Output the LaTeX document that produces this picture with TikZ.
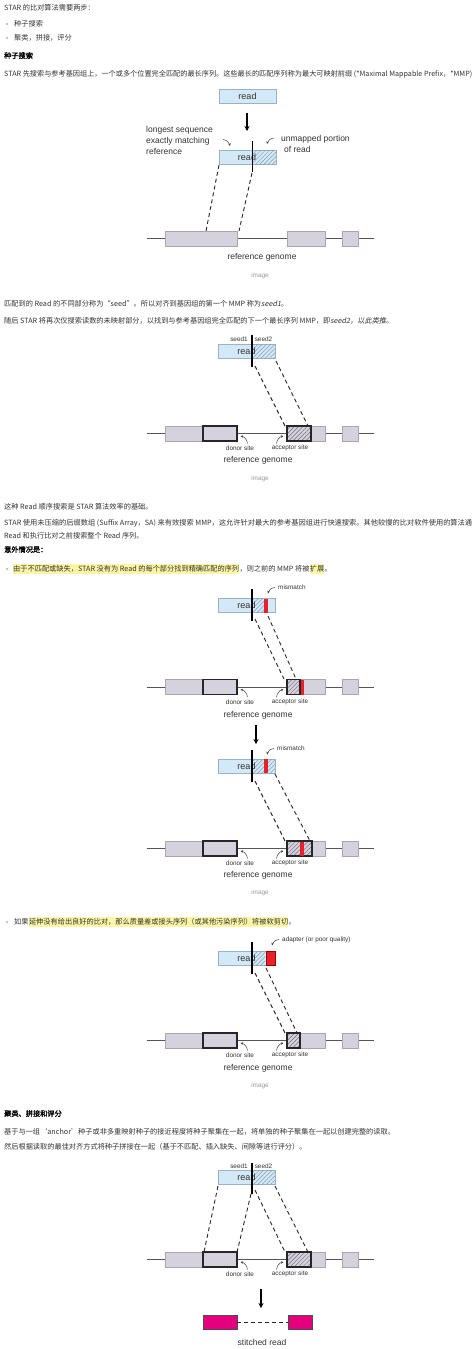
\documentclass[tikz,border=0pt]{standalone}
\usepackage{fontspec}
\setmainfont{Liberation Sans}
\newfontfamily\cjk{Noto Sans CJK SC}
\newfontfamily\cjkit{Noto Sans CJK SC}[FakeSlant=0.2]
\newfontfamily\cjkb{Noto Sans CJK SC}[FakeBold=1.5]
\usetikzlibrary{patterns.meta,arrows.meta}
\definecolor{txt}{HTML}{333333}
\definecolor{readbl}{HTML}{D4E9F7}
\definecolor{readbd}{HTML}{9AB2C6}
\definecolor{hatchbl}{HTML}{7F9BB5}
\definecolor{exonfl}{HTML}{D5D2DD}
\definecolor{exonbd}{HTML}{A9A6B4}
\definecolor{hatchgr}{HTML}{6E6B78}
\definecolor{redc}{HTML}{E8202A}
\definecolor{magc}{HTML}{E5007D}
\definecolor{hl}{HTML}{FCF6A4}
\definecolor{capgray}{HTML}{9A9A9A}
\definecolor{glc}{HTML}{555555}

\newcommand{\genomerow}[2]{%
  \coordinate (#1gl) at (147,#2);
  \coordinate (#1gr) at (374,#2);
  \draw[gline] (#1gl) -- (#1gr);
  \node[exon,minimum width=72pt] (#1e1) at (201,#2) {};
  \node[exon,minimum width=38pt] (#1e2) at (306,#2) {};
  \node[exon,minimum width=16pt] (#1e3) at (350,#2) {};
}
\newcommand{\siterow}[2]{%
  \node[thickbox,minimum width=34pt] (#1don) at (220,#2) {};
  \node[small] (#1dl) at (240,#2+14.8) {donor site};
  \node[small] (#1al) at (290,#2+14.8) {acceptor site};
  \coordinate (#1da) at (247.5,#2+10);
  \coordinate (#1db) at (240.5,#2+2.5);
  \draw[ptr] (#1da) to[bend right=35] (#1db);
  \coordinate (#1aa) at (276.5,#2+10);
  \coordinate (#1ab) at (283.5,#2+2.5);
  \draw[ptr] (#1aa) to[bend left=35] (#1ab);
}

\begin{document}
\begin{tikzpicture}[x=1pt,y=-1pt,
  ct/.style={anchor=west,inner xsep=0pt,inner ysep=1.3pt,text height=6.2pt,text depth=1.7pt,font=\cjk\fontsize{7.2}{9}\selectfont,text=txt},
  ctb/.style={ct,font=\cjkb\fontsize{7.2}{9}\selectfont,text=black},
  hlt/.style={ct,fill=hl},
  bul/.style={circle,fill=gray!60,inner sep=0pt,minimum size=2.4pt},
  readbox/.style={draw=readbd,fill=readbl,minimum width=57pt,minimum height=14pt,inner sep=0pt,line width=0.5pt},
  readlbl/.style={font=\fontsize{9}{10}\selectfont,text=txt,inner sep=0pt},
  hatchread/.style={pattern={Lines[angle=45,distance=3pt,line width=0.5pt]},pattern color=hatchbl},
  hatchex/.style={pattern={Lines[angle=45,distance=3pt,line width=0.5pt]},pattern color=hatchgr},
  gline/.style={draw=glc,line width=0.8pt},
  exon/.style={draw=exonbd,fill=exonfl,minimum height=15pt,inner sep=0pt,line width=0.5pt},
  thickbox/.style={draw=black!85,line width=1.1pt,minimum height=15pt,inner sep=0pt},
  ptr/.style={-{Stealth[length=2.6pt,width=2.4pt]},line width=0.5pt,draw=black!75},
  bigarrow/.style={-{Stealth[length=5pt,width=5pt]},line width=1.3pt,draw=black},
  dashln/.style={dash pattern=on 4pt off 3pt,line width=0.9pt,draw=black!85},
  divider/.style={line width=1.2pt,draw=black},
  lbl/.style={font=\fontsize{8.5}{11}\selectfont,text=txt,inner sep=0pt},
  small/.style={font=\fontsize{6.4}{8}\selectfont,text=txt,inner sep=0pt},
  imgcap/.style={font=\fontsize{6.4}{8}\selectfont,text=capgray,inner sep=0pt},
  magbox/.style={draw=black!70,fill=magc,minimum height=14pt,inner sep=0pt,line width=0.6pt}
]
\path[use as bounding box,fill=white] (0,0) rectangle (474,1349);

% ---------------- intro text
\node[ct] (t1) at (4,8) {STAR 的比对算法需要两步：};
\node[bul] (bu1) at (7,24) {};
\node[ct] (t2) at (14,24) {种子搜索};
\node[bul] (bu2) at (7,38) {};
\node[ct] (t3) at (14,38) {聚类，拼接，评分};
\node[ctb] (h1) at (4,56) {种子搜索};
\node[ct] (t4) at (4,74) {\resizebox{468pt}{!}{STAR 先搜索与参考基因组上，一个或多个位置完全匹配的最长序列。这些最长的匹配序列称为最大可映射前缀 (*Maximal Mappable Prefix，*MMP)}};

% ---------------- diagram 1
\node[readbox] (r0) at (247.5,96) {};
\node[readlbl] (r0l) at (247.5,96) {read};
\coordinate (a0s) at (247,113);
\coordinate (a0e) at (247,131);
\draw[bigarrow] (a0s) -- (a0e);
\node[lbl,anchor=west,align=left] (lng) at (146,140) {longest sequence\\exactly matching\\reference};
\node[lbl,anchor=west,align=left] (unm) at (281,143.5) {unmapped portion\\\hspace{3pt}of read};
\coordinate (p1a) at (223,139.5);
\coordinate (p1b) at (230,146);
\draw[ptr] (p1a) to[bend left=35] (p1b);
\coordinate (p2a) at (274,138);
\coordinate (p2b) at (267,144);
\draw[ptr] (p2a) to[bend right=35] (p2b);
\node[readbox] (r1) at (247.5,157) {};
\path[hatchread] (253,150) rectangle (276,164);
\node[readlbl] (r1l) at (247,157) {read};
\coordinate (v1a) at (252.5,141);
\coordinate (v1b) at (252.5,172);
\draw[divider] (v1a) -- (v1b);
\genomerow{g1}{238.5}
\coordinate (d1a) at (219,165);
\coordinate (d1b) at (206,231);
\draw[dashln] (d1a) -- (d1b);
\coordinate (d1c) at (252,173);
\coordinate (d1d) at (239,231);
\draw[dashln] (d1c) -- (d1d);
\node[lbl] (rg1) at (262,257) {reference genome};
\node[imgcap] (c1) at (260,276) {image};

% ---------------- text 2
\node[ct] (t5) at (4,304) {匹配到的 Read 的不同部分称为“seed”。所以对齐到基因组的第一个 MMP 称为{\cjkit seed1}。};
\node[ct] (t6) at (4,321) {随后 STAR 将再次仅搜索读数的未映射部分，以找到与参考基因组完全匹配的下一个最长序列 MMP，即{\cjkit seed2，以此类推}。};

% ---------------- diagram 2
\node[small] (s21) at (239,339) {seed1};
\node[small] (s22) at (263.5,339) {seed2};
\node[readbox] (r2) at (246.5,351) {};
\path[hatchread] (252,344) rectangle (275,358);
\node[readlbl] (r2l) at (246.5,351) {read};
\coordinate (v2a) at (252,335);
\coordinate (v2b) at (252,367);
\draw[divider] (v2a) -- (v2b);
\genomerow{g2}{433.5}
\siterow{g2}{433.5}
\node[thickbox,hatchex,minimum width=24pt] (g2acc) at (299,433.5) {};
\coordinate (d2a) at (255,366);
\coordinate (d2b) at (285,426);
\draw[dashln] (d2a) -- (d2b);
\coordinate (d2c) at (276,361);
\coordinate (d2d) at (308,426);
\draw[dashln] (d2c) -- (d2d);
\node[lbl] (rg2) at (258,460) {reference genome};
\node[imgcap] (c2) at (260,479) {image};

% ---------------- text 3
\node[ct] (t7) at (4,507) {这种 Read 顺序搜索是 STAR 算法效率的基础。};
\node[ct] (t8) at (4,523) {\resizebox{468pt}{!}{STAR 使用未压缩的后缀数组 (Suffix Array，SA) 来有效搜索 MMP，这允许针对最大的参考基因组进行快速搜索。其他较慢的比对软件使用的算法通}};
\node[ct] (t9) at (4,536) {Read 和执行比对之前搜索整个 Read 序列。};
\node[ctb] (h2) at (4,550) {意外情况是：};
\node[bul] (bu3) at (7,569) {};
\node[hlt] (b1a) at (13,569) {由于不匹配或缺失，STAR 没有为 Read 的每个部分找到精确匹配的序列};
\node[ct] (b1b) at (b1a.east) {，则之前的 MMP 将被};
\node[hlt] (b1c) at (b1b.east) {扩展};
\node[ct] (b1d) at (b1c.east) {。};

% ---------------- diagram 3
\node[small,anchor=west] (mm3) at (278,587) {mismatch};
\coordinate (p3a) at (275,587.5);
\coordinate (p3b) at (268,593.5);
\draw[ptr] (p3a) to[bend right=35] (p3b);
\node[readbox] (r3) at (246.5,605.5) {};
\path[hatchread] (252,598.5) rectangle (264,612.5);
\fill[redc] (264,598.5) rectangle (268,612.5);
\node[readlbl] (r3l) at (246.5,605.5) {read};
\coordinate (v3a) at (252,589);
\coordinate (v3b) at (252,621);
\draw[divider] (v3a) -- (v3b);
\genomerow{g3}{687}
\siterow{g3}{687}
\fill[redc] (300,679.5) rectangle (304,694.5);
\node[thickbox,hatchex,minimum width=13pt] (g3acc) at (293.5,687) {};
\coordinate (d3a) at (255,619);
\coordinate (d3b) at (284,679);
\draw[dashln] (d3a) -- (d3b);
\coordinate (d3c) at (268,616);
\coordinate (d3d) at (296,679);
\draw[dashln] (d3c) -- (d3d);
\node[lbl] (rg3) at (258,715) {reference genome};

\coordinate (a3s) at (256,725);
\coordinate (a3e) at (256,744);
\draw[bigarrow] (a3s) -- (a3e);

% ---------------- diagram 4
\node[small,anchor=west] (mm4) at (277,748) {mismatch};
\coordinate (p4a) at (274,748.5);
\coordinate (p4b) at (267,754.5);
\draw[ptr] (p4a) to[bend right=35] (p4b);
\node[readbox] (r4) at (246.5,766) {};
\path[hatchread] (252,759) rectangle (275,773);
\fill[redc] (264,759) rectangle (268,773);
\node[readlbl] (r4l) at (246.5,766) {read};
\coordinate (v4a) at (252,750);
\coordinate (v4b) at (252,782);
\draw[divider] (v4a) -- (v4b);
\genomerow{g4}{848.5}
\siterow{g4}{848.5}
\node[thickbox,hatchex,minimum width=25pt] (g4acc) at (299.5,848.5) {};
\fill[redc] (300,841.5) rectangle (304,855.5);
\coordinate (d4a) at (255,781);
\coordinate (d4b) at (285,841);
\draw[dashln] (d4a) -- (d4b);
\coordinate (d4c) at (275,774);
\coordinate (d4d) at (310,841);
\draw[dashln] (d4c) -- (d4d);
\node[lbl] (rg4) at (258,875) {reference genome};
\node[imgcap] (c4) at (260,893) {image};

% ---------------- bullet 2
\node[bul] (bu4) at (7,922) {};
\node[ct] (b2a) at (14,922) {如果};
\node[hlt] (b2b) at (b2a.east) {延伸没有给出良好的比对，那么质量差或接头序列（或其他污染序列）将被软剪切};
\node[ct] (b2c) at (b2b.east) {。};

% ---------------- diagram 5
\node[small,anchor=west] (ad5) at (282,940) {adapter (or poor quality)};
\coordinate (p5a) at (279,939.5);
\coordinate (p5b) at (272,945.5);
\draw[ptr] (p5a) to[bend right=35] (p5b);
\node[readbox] (r5) at (246.5,958.5) {};
\path[hatchread] (252,951.5) rectangle (265,965.5);
\node[readlbl] (r5l) at (246.5,958.5) {read};
\node[draw=red!60!black,fill=redc,minimum width=9pt,minimum height=14pt,inner sep=0pt,line width=0.5pt] (ad5b) at (270.5,958.5) {};
\coordinate (v5a) at (252,942);
\coordinate (v5b) at (252,974);
\draw[divider] (v5a) -- (v5b);
\genomerow{g5}{1040.5}
\siterow{g5}{1040.5}
\node[thickbox,hatchex,minimum width=13pt] (g5acc) at (293.5,1040.5) {};
\coordinate (d5a) at (255,973);
\coordinate (d5b) at (285,1033);
\draw[dashln] (d5a) -- (d5b);
\coordinate (d5c) at (266,968);
\coordinate (d5d) at (297,1033);
\draw[dashln] (d5c) -- (d5d);
\node[lbl] (rg5) at (258,1068) {reference genome};
\node[imgcap] (c5) at (260,1086) {image};

% ---------------- text 5
\node[ctb] (h3) at (4,1114) {聚类、拼接和评分};
\node[ct] (t10) at (4,1132) {基于与一组‘anchor’种子或非多重映射种子的接近程度将种子聚集在一起，将单独的种子聚集在一起以创建完整的读取。};
\node[ct] (t11) at (4,1147) {然后根据读取的最佳对齐方式将种子拼接在一起（基于不匹配、插入缺失、间隙等进行评分）。};

% ---------------- diagram 6
\node[small] (s61) at (239,1166) {seed1};
\node[small] (s62) at (263.5,1166) {seed2};
\node[readbox] (r6) at (246.5,1177.5) {};
\path[hatchread] (252,1170.5) rectangle (275,1184.5);
\node[readlbl] (r6l) at (246.5,1177.5) {read};
\coordinate (v6a) at (252,1163);
\coordinate (v6b) at (252,1194);
\draw[divider] (v6a) -- (v6b);
\genomerow{g6}{1259.5}
\siterow{g6}{1259.5}
\node[thickbox,hatchex,minimum width=24pt] (g6acc) at (299,1259.5) {};
\coordinate (d6a) at (218,1186);
\coordinate (d6b) at (204,1252);
\draw[dashln] (d6a) -- (d6b);
\coordinate (d6c) at (251,1194);
\coordinate (d6d) at (237,1252);
\draw[dashln] (d6c) -- (d6d);
\coordinate (d6e) at (255,1190);
\coordinate (d6f) at (285,1252);
\draw[dashln] (d6e) -- (d6f);
\coordinate (d6g) at (275,1186);
\coordinate (d6h) at (308,1252);
\draw[dashln] (d6g) -- (d6h);
\coordinate (a6s) at (261,1289);
\coordinate (a6e) at (261,1308);
\draw[bigarrow] (a6s) -- (a6e);
\node[magbox,minimum width=34pt] (m1) at (220,1322) {};
\node[magbox,minimum width=24pt] (m2) at (300,1322) {};
\draw[dashln] (m1.east) -- (m2.west);
\node[lbl] (st) at (262,1342) {stitched read};
\end{tikzpicture}
\end{document}
